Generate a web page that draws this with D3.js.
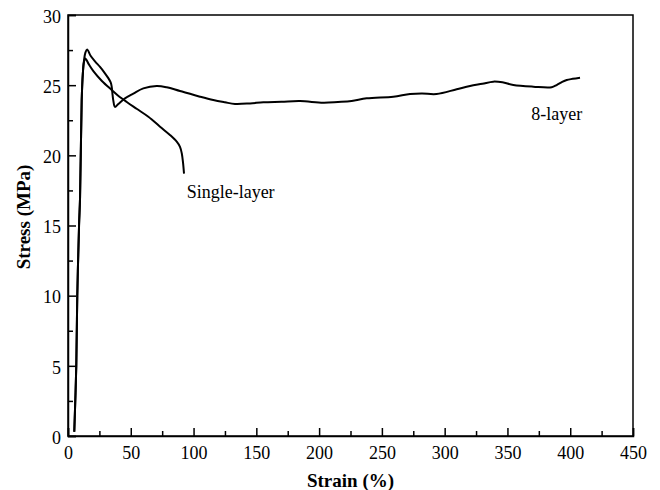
<!DOCTYPE html>
<html>
<head>
<meta charset="utf-8">
<script src="https://cdn.jsdelivr.net/npm/d3@7"></script>
<style>
  body { margin: 0; background: #fff; }
  svg text { font-family: "Liberation Serif", "Times New Roman", serif; fill: #000; }
</style>
</head>
<body>
<svg id="chart" width="660" height="490"></svg>
<script>
// strain (%) / stress (MPa)
var singleStrain = [5, 6.6, 7.4, 8.8, 9.6, 10.9, 11.8, 12.6, 13.8, 16.5, 20.2, 27, 34.8, 40, 46.8, 55, 64, 73.3, 81.2, 86.6, 89.2, 90.6, 91.6, 92.4];
var singleStress = [0.3, 5, 10, 15, 17, 23.9, 25.8, 26.6, 26.9, 26.5, 26.0, 25.3, 24.66, 24.25, 23.8, 23.3, 22.75, 22.04, 21.45, 20.97, 20.6, 20.15, 19.5, 18.7];

var eightStrain = [5, 6.6, 7.4, 8.8, 9.6, 10.9, 11.8, 12.8, 13.8, 15.2, 18, 21.5, 25.5, 29, 32.1, 34, 34.8, 35.5, 36.1, 37.4, 40.1, 45.4, 52, 60, 70.6, 78.6, 89.2, 105.1, 115.7, 125, 133, 145, 155.6, 170, 184.8, 203.3, 215, 225.9, 237.9, 259.1, 272.4, 282, 293.6, 309.6, 320.2, 330, 338.7, 346, 354.7, 370.6, 385.2, 389.2, 393, 397.2, 402, 407.8];
var eightStress = [0.3, 5, 10, 15, 17, 23.9, 25.8, 26.8, 27.3, 27.55, 27.1, 26.7, 26.3, 25.9, 25.5, 25.2, 24.9, 24.3, 23.9, 23.45, 23.66, 24.06, 24.4, 24.77, 24.94, 24.85, 24.58, 24.18, 23.94, 23.78, 23.66, 23.7, 23.78, 23.82, 23.87, 23.75, 23.8, 23.87, 24.06, 24.18, 24.37, 24.4, 24.37, 24.71, 24.94, 25.1, 25.25, 25.2, 25.01, 24.89, 24.85, 25.01, 25.2, 25.37, 25.45, 25.53];

var xTicks = [0, 50, 100, 150, 200, 250, 300, 350, 400, 450];
var yTicks = [0, 5, 10, 15, 20, 25, 30];
var xMinor = [25, 75, 125, 175, 225, 275, 325, 375, 425];
var yMinor = [2.5, 7.5, 12.5, 17.5, 22.5, 27.5];

var svg = d3.select("#chart");
var padding = {top: 15, right: 27, bottom: 54, left: 68};
var W = +svg.attr("width") - padding.left - padding.right;
var H = +svg.attr("height") - padding.top - padding.bottom;

var xScale = d3.scaleLinear().domain([0, 450]).range([0, W]);
var yScale = d3.scaleLinear().domain([0, 30]).range([H, 0]);

var g = svg.append("g").attr("transform", "translate(" + padding.left + "," + padding.top + ")");

// frame
g.append("rect")
    .attr("x", 0).attr("y", 0).attr("width", W).attr("height", H)
    .attr("fill", "none").attr("stroke", "#000").attr("stroke-width", 1.5);

// axes, ticks point into the plot
var xAxis = g.append("g").attr("transform", "translate(0," + H + ")")
    .call(d3.axisBottom(xScale).tickValues(xTicks).tickSize(-8).tickPadding(10).tickFormat(d3.format("d")));
g.append("g").attr("transform", "translate(0," + H + ")")
    .call(d3.axisBottom(xScale).tickValues(xMinor).tickSize(-5).tickFormat(""))
    .call(s => s.select(".domain").remove());

var yAxis = g.append("g")
    .call(d3.axisLeft(yScale).tickValues(yTicks).tickSize(-8).tickPadding(7).tickFormat(d3.format("d")));
g.append("g")
    .call(d3.axisLeft(yScale).tickValues(yMinor).tickSize(-5).tickFormat(""))
    .call(s => s.select(".domain").remove());

g.selectAll("g").attr("font-family", null).attr("font-size", null);
g.selectAll(".tick line").attr("stroke", "#000").attr("stroke-width", 1.5);
g.selectAll(".domain").attr("stroke", "#000").attr("stroke-width", 1.5);
g.selectAll(".tick text")
    .attr("fill", "#000")
    .style("font-size", "18px");
yAxis.selectAll(".tick text").attr("dy", "0.4em");

// curves
var line = d3.line()
    .x(d => xScale(d[0]))
    .y(d => yScale(d[1]))
    .curve(d3.curveCatmullRom.alpha(0.5));

var singleData = singleStrain.map((v, i) => [v, singleStress[i]]);
var eightData = eightStrain.map((v, i) => [v, eightStress[i]]);

g.append("path").datum(eightData)
    .attr("d", line).attr("fill", "none").attr("stroke", "#000").attr("stroke-width", 2);
g.append("path").datum(singleData)
    .attr("d", line).attr("fill", "none").attr("stroke", "#000").attr("stroke-width", 2);

// curve labels
g.append("text")
    .attr("x", xScale(94.5)).attr("y", yScale(16.95))
    .style("font-size", "18px")
    .text("Single-layer");
g.append("text")
    .attr("x", xScale(369)).attr("y", yScale(22.55))
    .style("font-size", "18px")
    .text("8-layer");

// axis titles
svg.append("text")
    .attr("x", padding.left + W / 2)
    .attr("y", 487)
    .attr("text-anchor", "middle")
    .style("font-size", "19px")
    .style("font-weight", "bold")
    .text("Strain (%)");

//centro do titulo em y=217 como no original
svg.append("text")
    .attr("transform", "translate(30,217) rotate(-90)")
    .attr("text-anchor", "middle")
    .style("font-size", "19px")
    .style("font-weight", "bold")
    .text("Stress (MPa)");
</script>
</body>
</html>
